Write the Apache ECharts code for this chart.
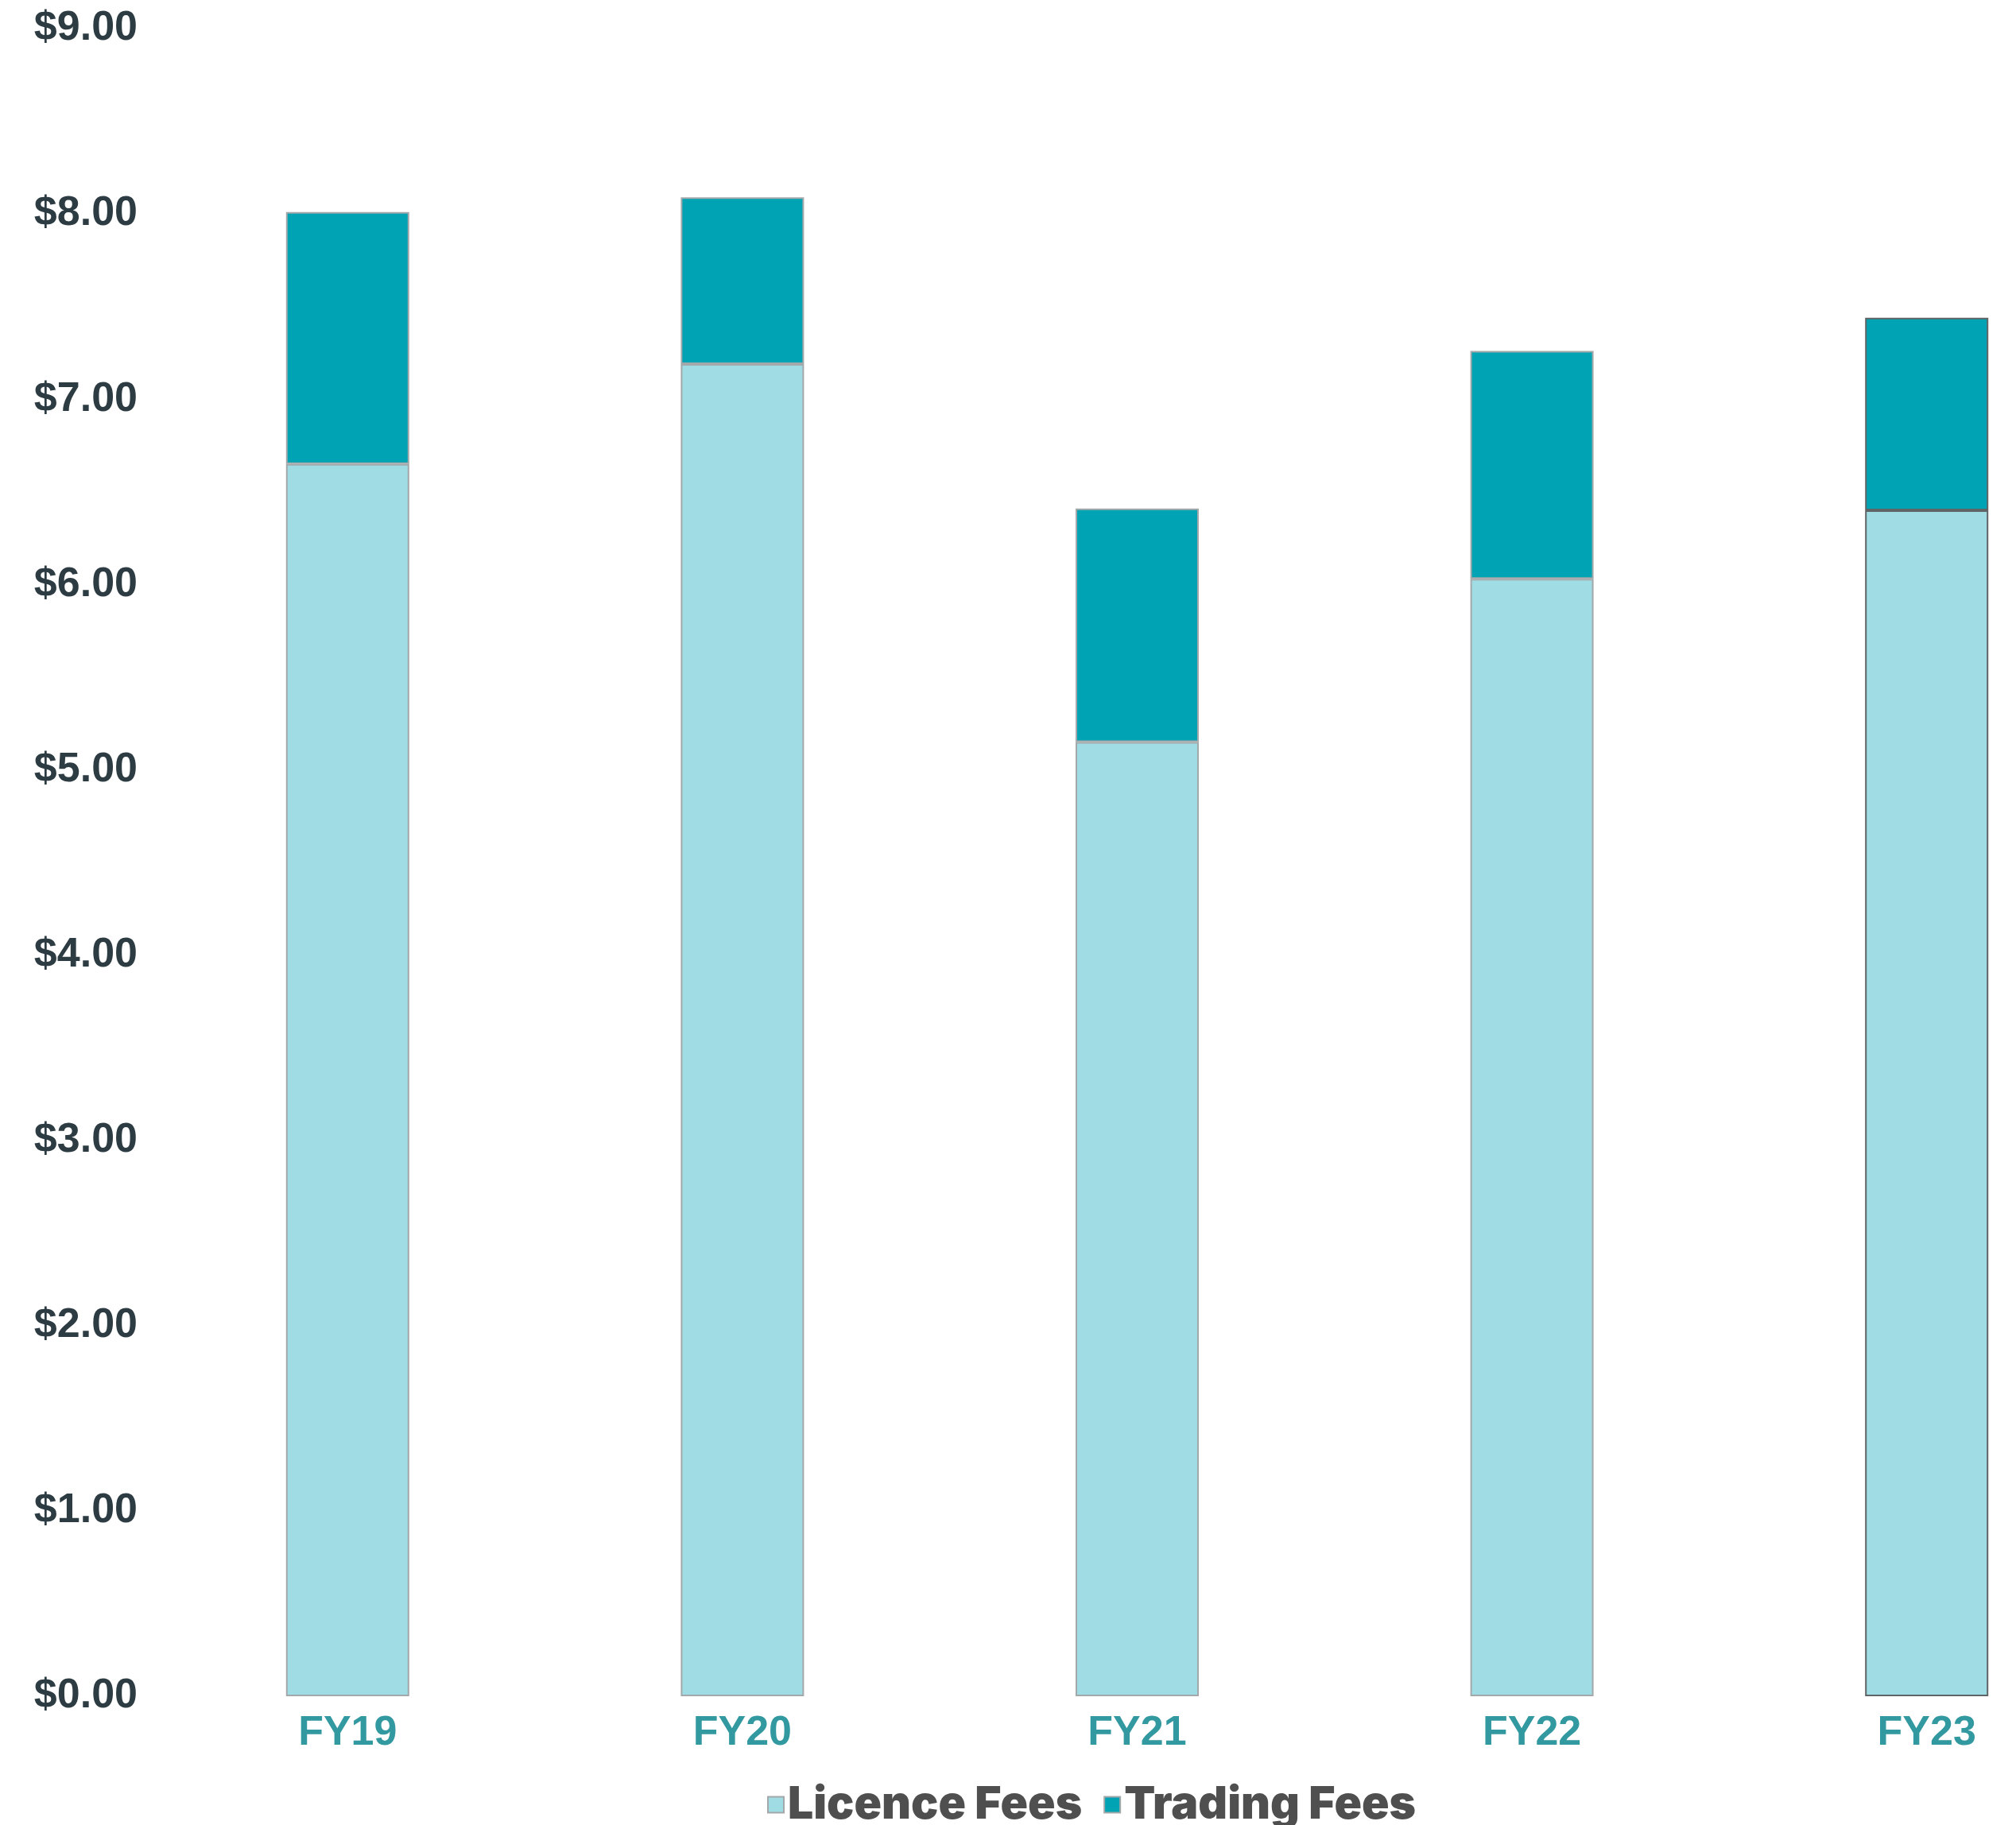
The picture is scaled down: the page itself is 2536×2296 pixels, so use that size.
<!DOCTYPE html>
<html>
<head>
<meta charset="utf-8">
<script src="https://cdn.jsdelivr.net/npm/echarts@6/dist/echarts.min.js"></script>
<style>
  html, body { margin: 0; padding: 0; background: #ffffff; }
  #chart { width: 2536px; height: 2296px; }
</style>
</head>
<body>
<div id="chart"></div>
<script>
// Fee revenue by financial year (stacked)
const years = ['FY19', 'FY20', 'FY21', 'FY22', 'FY23'];
const licenceFees = [6.65, 7.19, 5.15, 6.03, 6.40];
const tradingFees = [1.36, 0.90, 1.26, 1.23, 1.04];
const yTicks = { min: 0, max: 9, step: 1 };

const lightTeal = '#A0DCE3';
const darkTeal = '#00A3B3';

const chart = echarts.init(document.getElementById('chart'));

// last bar has a darker outline
function withOutline(values) {
  return values.map((v, i) => i === values.length - 1
    ? { value: v, itemStyle: { borderColor: '#5f6466' } }
    : v);
}

chart.setOption({
  animation: false,
  backgroundColor: '#ffffff',
  // the plot area runs past the right edge of the canvas
  grid: { left: 189, width: 2483, top: 36, bottom: 162, outerBoundsMode: 'none', containLabel: false },
  legend: {
    left: 960,
    top: 2237,
    itemWidth: 20,
    itemHeight: 20,
    itemGap: 27,
    icon: 'rect',
    textStyle: {
      fontFamily: 'Inter',
      fontWeight: 900,
      fontSize: 57,
      color: '#4f4f4f'
    },
    data: ['Licence Fees', 'Trading Fees']
  },
  xAxis: {
    type: 'category',
    data: years,
    axisLine: { show: false },
    axisTick: { show: false },
    axisLabel: {
      margin: 21,
      fontFamily: 'Liberation Sans',
      fontWeight: 'bold',
      fontSize: 52,
      color: '#3399a0'
    }
  },
  yAxis: {
    type: 'value',
    min: yTicks.min,
    max: yTicks.max,
    interval: yTicks.step,
    splitLine: { show: false },
    axisLine: { show: false },
    axisTick: { show: false },
    axisLabel: {
      margin: 16,
      fontFamily: 'Liberation Sans',
      fontWeight: 'bold',
      fontSize: 52,
      color: '#2d3b42',
      formatter: v => '$' + v.toFixed(2)
    }
  },
  series: [
    {
      name: 'Licence Fees',
      type: 'bar',
      stack: 'fees',
      barWidth: 155,
      itemStyle: { color: lightTeal, borderColor: '#a3a8aa', borderWidth: 2 },
      data: withOutline(licenceFees)
    },
    {
      name: 'Trading Fees',
      type: 'bar',
      stack: 'fees',
      barWidth: 155,
      itemStyle: { color: darkTeal, borderColor: '#a3a8aa', borderWidth: 2 },
      data: withOutline(tradingFees)
    }
  ]
});
</script>
</body>
</html>
